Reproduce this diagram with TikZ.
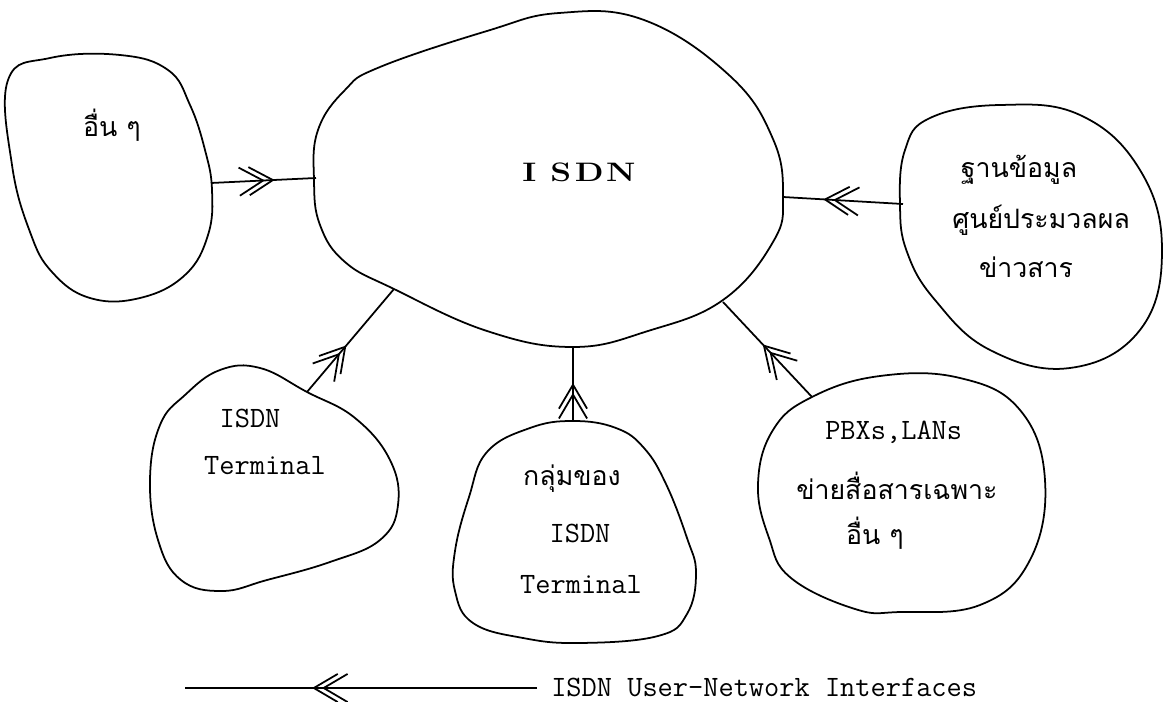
\documentclass[tikz,border=0pt]{standalone}
\usepackage{fontspec}
\newfontfamily\thai[Script=Thai]{Loma}
\usetikzlibrary{decorations.markings}
\tikzset{
  blob/.style={draw, line width=1.25pt, smooth cycle, tension=0.7},
  conn/.style={line width=1.25pt},
  dbl/.style={postaction={decorate}, decoration={markings, mark=at position #1 with {
     \draw[line width=1.25pt] (-17pt,10pt) -- (0pt,0pt) -- (-17pt,-10pt);
     \draw[line width=1.25pt] (-24pt,10pt) -- (-7pt,0pt) -- (-24pt,-10pt);}}},
  th/.style={font=\thai\fontsize{19}{22}\selectfont, inner sep=0pt},
  tt/.style={font=\ttfamily\fontsize{21}{24}\selectfont, inner sep=0pt},
}
\begin{document}
\begin{tikzpicture}[x=0.025cm, y=-0.025cm]
\useasboundingbox (0,0) rectangle (1166,702);
% blobs
\draw[blob] plot coordinates {(8,80) (50,58) (120,55) (168,70) (190,105) (205,150) (212,190) (208,235) (185,275) (140,298) (90,298) (52,272) (30,232) (12,165)};
\draw[blob] plot coordinates {(380,67) (487,31) (559,13) (644,20) (730,76) (773,139) (783,197) (773,242) (723,300) (648,331) (573,347) (487,331) (394,289) (345,262) (320,225) (314,180) (318,130) (345,90)};
\draw[blob] plot coordinates {(930,118) (1000,105) (1080,115) (1140,170) (1162,250) (1140,330) (1070,368) (990,350) (935,300) (907,252) (900,205) (905,150)};
\draw[blob] plot coordinates {(220,370) (260,368) (307,392) (355,418) (390,460) (398,505) (380,540) (330,562) (267,580) (222,591) (181,580) (158,540) (150,480) (160,425) (185,395)};
\draw[blob] plot coordinates {(573,421) (616,428) (644,448) (666,484) (687,538) (696,573) (687,614) (658,636) (580,643) (523,638) (473,623) (455,591) (455,551) (469,497) (487,452) (530,428)};
\draw[blob] plot coordinates {(812,397) (880,376) (960,378) (1020,410) (1045,480) (1030,560) (980,605) (900,612) (855,609) (791,578) (769,538) (758,484) (773,430)};
% texts
\node[th] (t1) at (112,125) {อื่น ๆ};
\node[font=\bfseries\fontsize{19}{22}\selectfont, inner sep=0pt, xscale=1.25] (isdn) at (579,172) {I\hspace{8pt}S\hspace{2pt}D\hspace{1.5pt}N};
\node[th] (r1) at (1019,170) {ฐานข้อมูล};
\node[th, anchor=west] (r2) at (952,220) {ศูนย์ประมวลผล};
\node[th] (r3) at (1026,267) {ข่าวสาร};
\node[tt] (a1) at (250,418) {ISDN};
\node[tt] (a2) at (265,466) {Terminal};
\node[th] (b1) at (572,479) {กลุ่มของ};
\node[tt] (b2) at (580,533) {ISDN};
\node[tt] (b3) at (581,585) {Terminal};
\node[tt, anchor=west] (c1) at (825,432) {PBXs,LANs};
\node[th, anchor=west] (c2) at (796,486) {ข่ายสื่อสารเฉพาะ};
\node[th] (c3) at (875,533) {อื่น ๆ};
% connector endpoints
\coordinate (L0) at (211,183); \coordinate (L1) at (316,178);
\coordinate (R0) at (903,204); \coordinate (R1) at (783,197);
\coordinate (T0) at (307,392); \coordinate (T1) at (394,289);
\coordinate (M0) at (573,421); \coordinate (M1) at (573,347);
\coordinate (P0) at (812,397); \coordinate (P1) at (723,302);
\draw[conn, dbl=0.59] (L0) -- (L1);
\draw[conn, dbl=0.65] (R0) -- (R1);
\draw[conn, dbl=0.44] (T0) -- (T1);
\draw[conn, dbl=0.49] (M0) -- (M1);
\draw[conn, dbl=0.54] (P0) -- (P1);
% legend
\coordinate (G0) at (537,688); \coordinate (G1) at (185,688);
\draw[conn, dbl=0.634] (G0) -- (G1);
\node[tt, anchor=west] (leg) at (551,687) {ISDN User-Network Interfaces};
\end{tikzpicture}
\end{document}
